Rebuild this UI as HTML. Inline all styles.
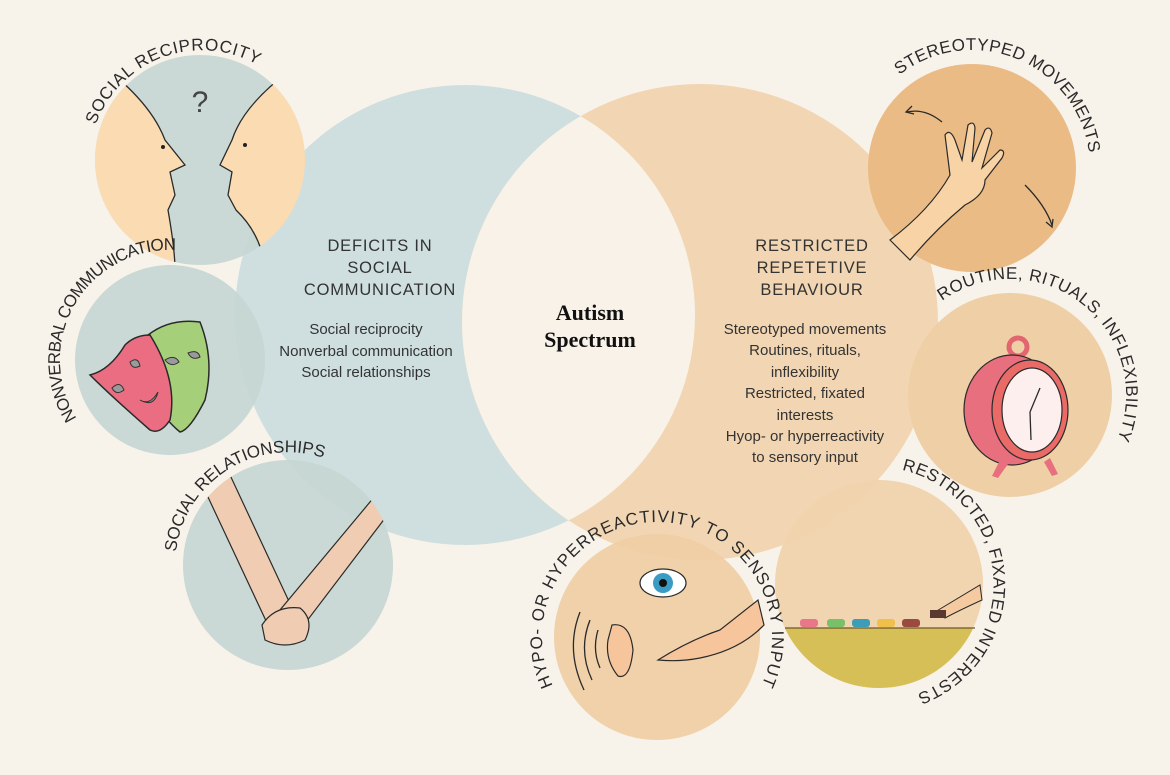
<!DOCTYPE html>
<html><head><meta charset="utf-8"><style>
html,body{margin:0;padding:0;background:#f8f3ea;}
svg{display:block;}
.lbl{font-family:"Liberation Sans",sans-serif;font-size:17px;fill:#2a2a2a;}
.hd{font-family:"Liberation Sans",sans-serif;font-size:16.5px;fill:#333;letter-spacing:0.8px;}
.bd{font-family:"Liberation Sans",sans-serif;font-size:15px;fill:#333;}
.ln{fill:none;stroke:#2a2a2a;stroke-width:1.3;}
</style></head><body>
<svg width="1170" height="775" viewBox="0 0 1170 775" xmlns="http://www.w3.org/2000/svg">
<defs>
<clipPath id="cb"><circle cx="465" cy="315" r="230"/></clipPath>
<clipPath id="cr"><circle cx="879" cy="584" r="104"/></clipPath>
<clipPath id="c1"><circle cx="200" cy="160" r="105"/></clipPath>
<clipPath id="c3"><circle cx="288" cy="565" r="105"/></clipPath>
<path id="p1" d="M95.7,124.9 A113,113 0 0 1 297.9,103.5"/>
<path id="p2" d="M76.7,418.3 A110,110 0 0 1 216.5,260.3"/>
<path id="p3" d="M176,552 A113,113 0 0 1 374.6,492.4"/>
<path id="p4" d="M899.4,75 A118,118 0 0 1 1086,198.5"/>
<path id="p5" d="M942,301 A116,116 0 0 1 1105,461.6"/>
<path id="p6" d="M902,470 A117,117 0 0 1 889.2,700.5"/>
<path id="p7" d="M552.8,685.6 A115,115 0 1 1 751.2,703"/>
</defs>
<rect width="1170" height="775" fill="#f8f3ea"/>
<circle cx="465" cy="315" r="230" fill="#cfdfdf"/>
<circle cx="700" cy="322" r="238" fill="#f2d6b3"/>
<circle cx="700" cy="322" r="238" fill="#f8f2e8" clip-path="url(#cb)"/>

<circle cx="200" cy="160" r="105" fill="#c4d6d3" opacity="0.9"/>
<g clip-path="url(#c1)">
<path d="M95,60 Q150,100 165,140 L185,165 L170,172 L175,195 L168,210 Q175,250 175,270 L90,270 Z" fill="#fbdcb2" stroke="#2a2a2a" stroke-width="1.3"/>
<path d="M305,60 Q245,100 232,140 L220,165 L232,172 L228,195 L236,210 Q262,235 265,270 L310,270 Z" fill="#fbdcb2" stroke="#2a2a2a" stroke-width="1.3"/>
</g>
<text x="200" y="112" text-anchor="middle" style="font-family:'Liberation Sans',sans-serif;font-size:30px;fill:#444">?</text>
<circle cx="163" cy="147" r="2" fill="#222"/><circle cx="245" cy="145" r="2" fill="#222"/>

<circle cx="170" cy="360" r="95" fill="#c4d6d3" opacity="0.9"/>
<path d="M148,335 Q170,318 200,322 Q215,360 205,400 Q190,430 180,432 Q165,420 150,395 Z" fill="#a6cf7a" stroke="#2a2a2a" stroke-width="1.5"/>
<path d="M90,375 Q110,370 125,345 Q135,335 150,335 Q178,380 170,420 Q160,435 150,430 Q110,395 90,375 Z" fill="#ea6d82" stroke="#2a2a2a" stroke-width="1.5"/>
<path d="M165,360 q10,-6 14,2 q-8,6 -14,-2z M188,353 q10,-4 12,4 q-8,4 -12,-4z" fill="#9a9a9a" stroke="#333"/>
<path d="M130,362 q8,-6 10,4 q-8,4 -10,-4z M112,388 q8,-8 12,2 q-8,6 -12,-2z M140,400 q10,6 18,-8 q-4,16 -18,8z" fill="#9a9a9a" stroke="#333"/>

<circle cx="288" cy="565" r="105" fill="#c4d6d3" opacity="0.9"/>
<g clip-path="url(#c3)">
<path d="M200,480 L230,475 L300,625 L275,640 Z" fill="#f0cdb2" stroke="#2a2a2a" stroke-width="1.2"/>
<path d="M380,490 L395,505 L300,630 L280,610 Z" fill="#f0cdb2" stroke="#2a2a2a" stroke-width="1.2"/>
<path d="M262,625 Q275,605 300,608 Q315,620 305,640 Q285,650 265,640 Z" fill="#f0cdb2" stroke="#2a2a2a" stroke-width="1.2"/>
</g>

<circle cx="972" cy="168" r="104" fill="#ebbb86"/>
<path d="M890,240 Q930,210 950,175 L945,135 Q950,128 955,140 L962,160 L968,125 Q974,120 975,128 L972,162 L985,130 Q990,125 992,133 L982,168 L1000,150 Q1006,150 1002,158 L985,180 Q985,195 965,205 Q935,230 910,260 Z" fill="#f8d3a6" stroke="#2a2a2a" stroke-width="1.2"/>
<path class="ln" d="M942,122 Q925,108 907,112 M1025,185 Q1045,205 1052,225"/>
<path class="ln" d="M912,106 l-6,6 l8,2 M1046,222 l6,5 l1,-8"/>

<circle cx="1010" cy="395" r="102" fill="#efcfa6"/>
<circle cx="1018" cy="347" r="9" fill="none" stroke="#e3656f" stroke-width="5"/>
<ellipse cx="1012" cy="410" rx="48" ry="55" fill="#e86f7d" stroke="#2a2a2a" stroke-width="1.2"/>
<ellipse cx="1030" cy="410" rx="38" ry="50" fill="#e96a66" stroke="#2a2a2a" stroke-width="1.2"/>
<ellipse cx="1032" cy="410" rx="30" ry="42" fill="#fcefed" stroke="#2a2a2a" stroke-width="1.2"/>
<path class="ln" d="M1030,412 L1040,388 M1030,412 L1031,440"/>
<path d="M1000,460 l-8,16 l6,2 l10,-14z M1050,458 l8,16 l-6,2 l-8,-14z" fill="#e86f7d"/>

<circle cx="879" cy="584" r="104" fill="#f0d3ae" opacity="0.95"/>
<rect x="770" y="628" width="220" height="70" fill="#d7bf58" clip-path="url(#cr)"/>
<line x1="785" y1="628" x2="975" y2="628" stroke="#6b5a2a" stroke-width="1.2"/>
<rect x="800" y="619" width="18" height="8" rx="3" fill="#e9768a"/>
<rect x="827" y="619" width="18" height="8" rx="3" fill="#79c06a"/>
<rect x="852" y="619" width="18" height="8" rx="3" fill="#3d9cb8"/>
<rect x="877" y="619" width="18" height="8" rx="3" fill="#f0c14a"/>
<rect x="902" y="619" width="18" height="8" rx="3" fill="#9a4a3e"/>
<path d="M935,612 Q955,600 980,585 L982,600 Q960,610 945,618 Z" fill="#f5caa0" stroke="#2a2a2a" stroke-width="1"/>
<rect x="930" y="610" width="16" height="8" fill="#5a3a30"/>

<circle cx="657" cy="637" r="103" fill="#efcfa6" opacity="0.95"/>
<ellipse cx="663" cy="583" rx="23" ry="14" fill="#fff" stroke="#2a2a2a" stroke-width="1.2"/>
<circle cx="663" cy="583" r="10" fill="#3a9cc3"/><circle cx="663" cy="583" r="4" fill="#111"/>
<path d="M612,625 Q630,622 633,650 Q630,680 618,676 Q605,660 608,640 Z" fill="#f7c59b" stroke="#2a2a2a" stroke-width="1.2"/>
<path class="ln" d="M590,620 Q578,650 592,680 M580,612 Q565,650 584,690 M598,630 Q592,650 600,668"/>
<path d="M658,660 Q690,640 720,630 L758,600 L764,625 Q740,650 700,658 Q680,662 658,660 Z" fill="#f7c59b" stroke="#2a2a2a" stroke-width="1.2"/>

<text x="380" y="251" text-anchor="middle" class="hd">DEFICITS IN</text>
<text x="380" y="273" text-anchor="middle" class="hd">SOCIAL</text>
<text x="380" y="295" text-anchor="middle" class="hd">COMMUNICATION</text>
<text x="366" y="334" text-anchor="middle" class="bd">Social reciprocity</text>
<text x="366" y="356" text-anchor="middle" class="bd">Nonverbal communication</text>
<text x="366" y="377" text-anchor="middle" class="bd">Social relationships</text>

<text x="590" y="320" text-anchor="middle" style="font-family:'Liberation Serif',serif;font-weight:bold;font-size:22px;fill:#111">Autism</text>
<text x="590" y="347" text-anchor="middle" style="font-family:'Liberation Serif',serif;font-weight:bold;font-size:22px;fill:#111">Spectrum</text>

<text x="812" y="251" text-anchor="middle" class="hd">RESTRICTED</text>
<text x="812" y="273" text-anchor="middle" class="hd">REPETETIVE</text>
<text x="812" y="295" text-anchor="middle" class="hd">BEHAVIOUR</text>
<text x="805" y="334" text-anchor="middle" class="bd">Stereotyped movements</text>
<text x="805" y="355" text-anchor="middle" class="bd">Routines, rituals,</text>
<text x="805" y="377" text-anchor="middle" class="bd">inflexibility</text>
<text x="805" y="398" text-anchor="middle" class="bd">Restricted, fixated</text>
<text x="805" y="420" text-anchor="middle" class="bd">interests</text>
<text x="805" y="441" text-anchor="middle" class="bd">Hyop- or hyperreactivity</text>
<text x="805" y="462" text-anchor="middle" class="bd">to sensory input</text>

<text class="lbl"><textPath href="#p1" textLength="196" lengthAdjust="spacing">SOCIAL RECIPROCITY</textPath></text>
<text class="lbl"><textPath href="#p2" textLength="240" lengthAdjust="spacing">NONVERBAL COMMUNICATION</textPath></text>
<text class="lbl"><textPath href="#p3" textLength="200" lengthAdjust="spacing">SOCIAL RELATIONSHIPS</textPath></text>
<text class="lbl"><textPath href="#p4" textLength="248" lengthAdjust="spacing">STEREOTYPED MOVEMENTS</textPath></text>
<text class="lbl"><textPath href="#p5" textLength="300" lengthAdjust="spacing">ROUTINE, RITUALS, INFLEXIBILITY</textPath></text>
<text class="lbl"><textPath href="#p6" textLength="300" lengthAdjust="spacing">RESTRICTED, FIXATED INTERESTS</textPath></text>
<text class="lbl"><textPath href="#p7" textLength="460" lengthAdjust="spacing">HYPO- OR HYPERREACTIVITY TO SENSORY INPUT</textPath></text>
</svg>
</body></html>
